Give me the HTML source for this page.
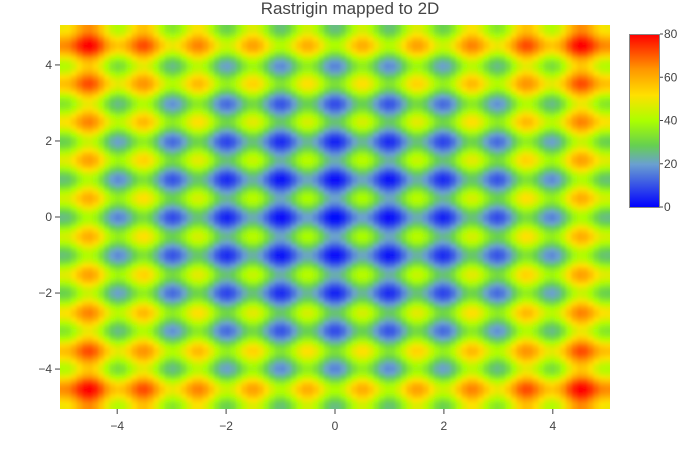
<!DOCTYPE html>
<html><head><meta charset="utf-8"><style>
body{margin:0;background:#fff;}
svg{display:block;font-family:"Liberation Sans",sans-serif;}
</style></head><body>
<svg id="chart" width="700" height="450">
<defs>
<linearGradient id="cbg" x1="0" y1="1" x2="0" y2="0">
<stop offset="0" stop-color="#0000ff"/>
<stop offset="0.25" stop-color="#6aa0d0"/>
<stop offset="0.36" stop-color="#66d050"/>
<stop offset="0.5" stop-color="#aaff00"/>
<stop offset="0.65" stop-color="#ffe000"/>
<stop offset="0.8" stop-color="#ff9600"/>
<stop offset="1" stop-color="#ff0000"/>
</linearGradient>
<filter id="sm" x="-2%" y="-2%" width="104%" height="104%"><feGaussianBlur stdDeviation="1.6"/></filter>
<clipPath id="pc"><rect x="60" y="25" width="550" height="384"/></clipPath>
</defs>
<text x="350" y="14" text-anchor="middle" font-size="17" fill="#444">Rastrigin mapped to 2D</text>
<g clip-path="url(#pc)"><g id="cells" filter="url(#sm)"></g></g>
<g id="xticks"></g>
<g id="yticks"></g>
<rect x="629.5" y="34.5" width="30" height="173" fill="url(#cbg)" stroke="#888" stroke-width="1"/>
<g id="cbticks"></g>
</svg>
<script>
const N = 100;
const xMin = -5, xMax = 5, yMin = -5, yMax = 5;
const xTicks = [-4, -2, 0, 2, 4];
const yTicks = [-4, -2, 0, 2, 4];
const cbTicks = [0, 20, 40, 60, 80];
const zMin = 0, zMax = 80;
const xs = [], ys = [];
for (let i = 0; i < N; i++) { xs.push(xMin + (xMax - xMin) * i / (N - 1)); ys.push(yMin + (yMax - yMin) * i / (N - 1)); }
function rastrigin(x, y) { return 20 + x*x - 10*Math.cos(2*Math.PI*x) + y*y - 10*Math.cos(2*Math.PI*y); }

const half = (xMax - xMin) / (N - 1) / 2;
const L = 60, R = 610, T = 25, B = 409;
const sx = v => L + (v - (xMin - half)) / (xMax - xMin + 2*half) * (R - L);
const sy = v => T + ((yMax + half) - v) / (yMax - yMin + 2*half) * (B - T);
const stops = [[0,[0,0,255]],[0.25,[106,160,208]],[0.36,[102,208,80]],[0.5,[170,255,0]],[0.65,[255,224,0]],[0.8,[255,150,0]],[1,[255,0,0]]];
function color(z) {
  let t = Math.max(0, Math.min(1, (z - zMin) / (zMax - zMin)));
  for (let k = 1; k < stops.length; k++) {
    if (t <= stops[k][0]) {
      const a = stops[k-1], b = stops[k], f = (t - a[0]) / (b[0] - a[0]);
      const c = a[1].map((v, j) => Math.round(v + (b[1][j] - v) * f));
      return `rgb(${c[0]},${c[1]},${c[2]})`;
    }
  }
  return 'rgb(255,0,0)';
}
const NS = 'http://www.w3.org/2000/svg';
const cells = document.getElementById('cells');
const cw = sx(xs[1]) - sx(xs[0]), ch = sy(ys[0]) - sy(ys[1]);
for (let j = 0; j < N; j++) for (let i = 0; i < N; i++) {
  const r = document.createElementNS(NS, 'rect');
  let x0 = sx(xs[i]) - cw/2, y0 = sy(ys[j]) - ch/2, w = cw + 0.6, h = ch + 0.6;
  if (i === 0) { x0 -= 6; w += 6; }
  if (i === N-1) { w += 6; }
  if (j === N-1) { y0 -= 6; h += 6; }
  if (j === 0) { h += 6; }
  r.setAttribute('x', x0.toFixed(2));
  r.setAttribute('y', y0.toFixed(2));
  r.setAttribute('width', w.toFixed(2));
  r.setAttribute('height', h.toFixed(2));
  r.setAttribute('fill', color(rastrigin(xs[i], ys[j])));
  
  
  cells.appendChild(r);
}
const fmt = v => v < 0 ? '\u2212' + Math.abs(v) : String(v);
const xg = document.getElementById('xticks');
xTicks.forEach(v => {
  const l = document.createElementNS(NS, 'line');
  l.setAttribute('x1', sx(v)); l.setAttribute('x2', sx(v)); l.setAttribute('y1', B); l.setAttribute('y2', B + 5);
  l.setAttribute('stroke', '#444');
  
  
  xg.appendChild(l);
  const t = document.createElementNS(NS, 'text');
  t.setAttribute('x', sx(v)); t.setAttribute('y', 430); t.setAttribute('text-anchor', 'middle');
  t.setAttribute('font-size', '12'); t.setAttribute('fill', '#444'); t.textContent = fmt(v);
  
  
  xg.appendChild(t);
});
const yg = document.getElementById('yticks');
yTicks.forEach(v => {
  const l = document.createElementNS(NS, 'line');
  l.setAttribute('x1', L - 5); l.setAttribute('x2', L); l.setAttribute('y1', sy(v)); l.setAttribute('y2', sy(v));
  l.setAttribute('stroke', '#444');
  
  
  yg.appendChild(l);
  const t = document.createElementNS(NS, 'text');
  t.setAttribute('x', L - 8); t.setAttribute('y', sy(v) + 4); t.setAttribute('text-anchor', 'end');
  t.setAttribute('font-size', '12'); t.setAttribute('fill', '#444'); t.textContent = fmt(v);
  
  
  yg.appendChild(t);
});
const cg = document.getElementById('cbticks');
const cy = v => 207 - (v - zMin) / (zMax - zMin) * 173;
cbTicks.forEach(v => {
  const l = document.createElementNS(NS, 'line');
  l.setAttribute('x1', 660); l.setAttribute('x2', 663); l.setAttribute('y1', cy(v)); l.setAttribute('y2', cy(v));
  l.setAttribute('stroke', '#444');
  
  
  cg.appendChild(l);
  const t = document.createElementNS(NS, 'text');
  t.setAttribute('x', 664); t.setAttribute('y', cy(v) + 4);
  t.setAttribute('font-size', '12'); t.setAttribute('fill', '#444'); t.textContent = v;
  
  
  cg.appendChild(t);
});
</script>
</body></html>
